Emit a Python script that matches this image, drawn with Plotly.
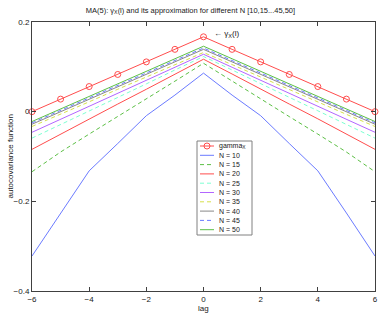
import plotly.graph_objects as go

lags = [-6, -5, -4, -3, -2, -1, 0, 1, 2, 3, 4, 5, 6]
gamma_x = [0.0, 0.028, 0.056, 0.083, 0.111, 0.139, 0.167, 0.139, 0.111, 0.083, 0.056, 0.028, 0.0]

N_values = [10, 15, 20, 25, 30, 35, 40, 45, 50]
approx_N10 = [-0.322, -0.226, -0.132, -0.071, -0.009, 0.037, 0.086, 0.037, -0.009, -0.071, -0.132, -0.226, -0.322]
approx_N15 = [-0.134, -0.090, -0.050, -0.011, 0.029, 0.068, 0.108, 0.068, 0.029, -0.011, -0.050, -0.090, -0.134]
approx_N20 = [-0.084, -0.050, -0.016, 0.017, 0.050, 0.084, 0.117, 0.084, 0.050, 0.017, -0.016, -0.050, -0.084]
approx_N25 = [-0.059, -0.029, 0.002, 0.032, 0.062, 0.093, 0.123, 0.093, 0.062, 0.032, 0.002, -0.029, -0.059]
approx_N30 = [-0.046, -0.017, 0.012, 0.041, 0.070, 0.099, 0.128, 0.099, 0.070, 0.041, 0.012, -0.017, -0.046]
approx_N35 = [-0.033, -0.006, 0.022, 0.050, 0.077, 0.105, 0.132, 0.105, 0.077, 0.050, 0.022, -0.006, -0.033]
approx_N40 = [-0.028, 0.000, 0.028, 0.055, 0.083, 0.111, 0.139, 0.111, 0.083, 0.055, 0.028, 0.000, -0.028]
approx_N45 = [-0.025, 0.003, 0.031, 0.058, 0.086, 0.114, 0.142, 0.114, 0.086, 0.058, 0.031, 0.003, -0.025]
approx_N50 = [-0.022, 0.006, 0.034, 0.062, 0.090, 0.118, 0.146, 0.118, 0.090, 0.062, 0.034, 0.006, -0.022]
approx_series = [approx_N10, approx_N15, approx_N20, approx_N25, approx_N30,
                 approx_N35, approx_N40, approx_N45, approx_N50]

x_ticks = [-6, -4, -2, 0, 2, 4, 6]
y_ticks = [-0.4, -0.2, 0, 0.2]
y_tick_text = ["\u22120.4", "\u22120.2", "0", "0.2"]

colors = ["#6b7bff", "#5cbf45", "#ff4d4d", "#7dffd2", "#b266ff",
          "#d6e04a", "#888888", "#6b7bff", "#5cbf45"]
dashes = ["solid", "4px,3px", "solid", "4px,3px", "solid",
          "4px,3px", "solid", "4px,3px", "solid"]
gamma_color = "#ff4d4d"
FONT = "Liberation Sans, Arial, sans-serif"

fig = go.Figure()
for N, vals, c, d in zip(N_values, approx_series, colors, dashes):
    fig.add_trace(go.Scatter(x=lags, y=vals, mode="lines", name=f"N = {N}",
                             line=dict(color=c, width=1, dash=d), showlegend=False))
fig.add_trace(go.Scatter(x=lags, y=gamma_x, mode="lines+markers", name="gamma_X",
                         line=dict(color=gamma_color, width=1),
                         marker=dict(symbol="circle-open", size=6, color=gamma_color,
                                     line=dict(width=1, color=gamma_color)),
                         showlegend=False, cliponaxis=False))

# plot area geometry (pixels)
W, H = 382, 314
L, R, T, B = 32, 7, 22, 23
pw, ph = W - L - R, H - T - B

def px(xp):
    return (xp - L) / pw

def py(yp):
    return (H - B - yp) / ph

shapes = []
annotations = []
# manual legend box
shapes.append(dict(type="rect", xref="paper", yref="paper",
                   x0=px(197), x1=px(252), y0=py(235), y1=py(141),
                   fillcolor="white", line=dict(color="#808080", width=1), layer="above"))
entries = [("gamma<sub>X</sub>", gamma_color, "solid", True)] + \
          [(f"N = {N}", c, d, False) for N, c, d in zip(N_values, colors, dashes)]
for i, (label, c, d, mk) in enumerate(entries):
    yy = 146 + 9.3 * i
    shapes.append(dict(type="line", xref="paper", yref="paper",
                       x0=px(200), x1=px(214), y0=py(yy), y1=py(yy),
                       line=dict(color=c, width=1, dash=d), layer="above"))
    if mk:
        shapes.append(dict(type="circle", xref="paper", yref="paper",
                           xsizemode="pixel", ysizemode="pixel",
                           xanchor=px(207), yanchor=py(yy),
                           x0=-3, x1=3, y0=-3, y1=3,
                           line=dict(color=c, width=1), layer="above"))
    annotations.append(dict(xref="paper", yref="paper", x=px(217), y=py(yy),
                            text=label, showarrow=False, xanchor="left", yanchor="middle",
                            font=dict(size=7, family=FONT, color="#202020")))

annotations.append(dict(xref="x", yref="y", x=0.3, y=0.174,
                        text="\u2190 \u03b3<sub>X</sub>(l)", showarrow=False,
                        xanchor="left", yanchor="middle",
                        font=dict(size=8, family=FONT, color="#202020")))
annotations.append(dict(xref="paper", yref="paper", x=0.5, y=py(308),
                        text="lag", showarrow=False, xanchor="center", yanchor="middle",
                        font=dict(size=8, family=FONT, color="#202020")))
annotations.append(dict(xref="paper", yref="paper", x=px(10), y=0.5,
                        text="autocovariance function", showarrow=False, textangle=-90,
                        xanchor="center", yanchor="middle",
                        font=dict(size=8, family=FONT, color="#202020")))

fig.update_layout(
    width=W, height=H,
    margin=dict(l=L, r=R, t=T, b=B, autoexpand=False),
    paper_bgcolor="white", plot_bgcolor="white",
    title=dict(text="MA(5): \u03b3<sub>X</sub>(l) and its approximation for different N [10,15...45,50]",
               x=px(203), xanchor="center", y=1 - 10 / H, yanchor="middle",
               font=dict(size=7.5, family=FONT, color="#202020")),
    font=dict(family=FONT, size=8, color="#202020"),
    showlegend=False,
    shapes=shapes, annotations=annotations,
    xaxis=dict(range=[-6, 6], tickvals=x_ticks, ticks="inside", ticklen=4,
               tickcolor="#404040", showline=True, linecolor="#404040", linewidth=1,
               mirror="ticks", showgrid=False, zeroline=False,
               tickfont=dict(size=8, family=FONT)),
    yaxis=dict(range=[-0.4, 0.2], tickvals=y_ticks, ticktext=y_tick_text, ticks="inside",
               ticklen=4, tickcolor="#404040", showline=True, linecolor="#404040",
               linewidth=1, mirror="ticks", showgrid=False, zeroline=False,
               tickfont=dict(size=8, family=FONT)),
)

fig.write_html("out.html", config={"displayModeBar": False},
               post_script="document.body.style.margin='0';document.body.style.padding='0';document.documentElement.style.overflow='hidden';")
